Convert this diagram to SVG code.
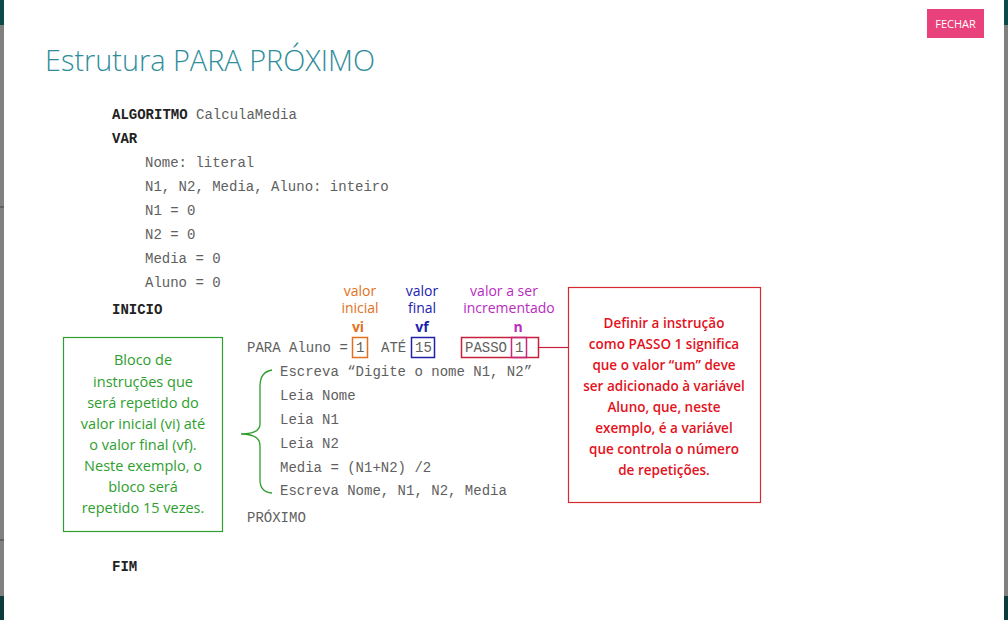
<svg xmlns="http://www.w3.org/2000/svg" width="1008" height="620" viewBox="0 0 1008 620">
<style>
.code{font-family:"Liberation Mono","Courier New",monospace;font-size:14px;fill:#606060}
.b{font-weight:bold;fill:#222}
.lbl{font-family:"Open Sans","Noto Sans",sans-serif;font-size:14px;text-anchor:middle}
.green{fill:#2e9e2e;font-size:14.5px}
.red{fill:#e3121c;font-weight:600;font-size:13.5px}
</style>
<rect x="0" y="0" width="1008" height="620" fill="#ffffff"/>
<rect x="0" y="0" width="4" height="620" fill="#808080"/>
<rect x="0" y="0" width="4" height="25" fill="#0d4a4a"/>
<rect x="0" y="596" width="4" height="24" fill="#0d3a3a"/>
<rect x="1004" y="0" width="4" height="620" fill="#808080"/>
<rect x="1004" y="0" width="4" height="25" fill="#0d4a4a"/>
<rect x="1004" y="596" width="4" height="24" fill="#0d3a3a"/>
<line x1="0" y1="207" x2="4" y2="207" stroke="#444"/>
<line x1="0" y1="540" x2="4" y2="540" stroke="#444"/>

<g id="title">
<text x="45" y="71" font-family="Open Sans, Noto Sans, sans-serif" font-size="30" font-weight="300" fill="#2f8d9b" textLength="330" lengthAdjust="spacingAndGlyphs">Estrutura PARA PRÓXIMO</text>
</g>
<g id="fechar">
<rect x="927" y="9" width="57" height="29" fill="#e8417b"/>
<text x="955.5" y="28" font-family="Open Sans, Noto Sans, sans-serif" font-size="11" fill="#fff" text-anchor="middle">FECHAR</text>
</g>

<g id="code">
<text class="code" x="112" y="119"><tspan class="b">ALGORITMO</tspan> CalculaMedia</text>
<text class="code b" x="112" y="143">VAR</text>
<text class="code" x="145" y="167">Nome: literal</text>
<text class="code" x="145" y="191">N1, N2, Media, Aluno: inteiro</text>
<text class="code" x="145" y="215">N1 = 0</text>
<text class="code" x="145" y="239">N2 = 0</text>
<text class="code" x="145" y="263">Media = 0</text>
<text class="code" x="145" y="287">Aluno = 0</text>
<text class="code b" x="112" y="314">INICIO</text>
<text class="code" x="247" y="352">PARA Aluno = </text>
<text class="code" x="356" y="352">1</text>
<text class="code" x="381" y="352">ATÉ</text>
<text class="code" x="415" y="352">15</text>
<text class="code" x="465" y="352">PASSO</text>
<text class="code" x="515" y="352">1</text>
<text class="code" x="280" y="376">Escreva “Digite o nome N1, N2”</text>
<text class="code" x="280" y="400">Leia Nome</text>
<text class="code" x="280" y="424">Leia N1</text>
<text class="code" x="280" y="448">Leia N2</text>
<text class="code" x="280" y="472">Media = (N1+N2) /2</text>
<text class="code" x="280" y="495">Escreva Nome, N1, N2, Media</text>
<text class="code" x="247" y="522">PRÓXIMO</text>
<text class="code b" x="112" y="571">FIM</text>
</g>

<g id="vi">
<rect x="352.5" y="337.5" width="15" height="20" fill="none" stroke="#e2711d" stroke-width="1.5"/>
<text class="lbl" x="360" y="296" fill="#e2711d">valor</text>
<text class="lbl" x="360" y="313" fill="#e2711d">inicial</text>
<text class="lbl" x="358" y="332" fill="#e2711d" font-weight="bold">vi</text>
</g>
<g id="vf">
<rect x="411.5" y="337.5" width="23" height="20" fill="none" stroke="#2121a8" stroke-width="1.5"/>
<text class="lbl" x="422" y="296" fill="#2121b0">valor</text>
<text class="lbl" x="422" y="313" fill="#2121b0">final</text>
<text class="lbl" x="422" y="332" fill="#2121b0" font-weight="bold">vf</text>
</g>
<g id="n">
<rect x="461.5" y="337.5" width="77" height="20" fill="none" stroke="#c8203c" stroke-width="1.5"/>
<rect x="511.5" y="337.5" width="15" height="20" fill="none" stroke="#c8287a" stroke-width="1.5"/>
<text class="lbl" x="504" y="296" fill="#b82cc0">valor a ser</text>
<text class="lbl" x="509" y="313" fill="#b82cc0">incrementado</text>
<text class="lbl" x="518" y="332" fill="#b82cc0" font-weight="bold">n</text>
</g>

<g id="green-box">
<rect x="63.5" y="337.5" width="159" height="194" fill="#fff" stroke="#2e9e2e" stroke-width="1.2"/>
<text class="lbl green" x="143" y="365">Bloco de</text>
<text class="lbl green" x="143" y="387">instruções que</text>
<text class="lbl green" x="143" y="408">será repetido do</text>
<text class="lbl green" x="143" y="429">valor inicial (vi) até</text>
<text class="lbl green" x="143" y="450">o valor final (vf).</text>
<text class="lbl green" x="143" y="471">Neste exemplo, o</text>
<text class="lbl green" x="143" y="492">bloco será</text>
<text class="lbl green" x="143" y="513">repetido 15 vezes.</text>
</g>

<g id="red-box">
<rect x="568.5" y="287.5" width="192" height="215" fill="#fff" stroke="#d42a30" stroke-width="1.2"/>
<text class="lbl red" x="664" y="328">Definir a instrução</text>
<text class="lbl red" x="664" y="349">como PASSO 1 significa</text>
<text class="lbl red" x="664" y="370">que o valor “um” deve</text>
<text class="lbl red" x="664" y="391">ser adicionado à variável</text>
<text class="lbl red" x="664" y="412">Aluno, que, neste</text>
<text class="lbl red" x="664" y="433">exemplo, é a variável</text>
<text class="lbl red" x="664" y="454">que controla o número</text>
<text class="lbl red" x="664" y="475">de repetições.</text>
</g>

<g id="connectors" fill="none">
<line x1="539" y1="347.5" x2="568" y2="347.5" stroke="#c8203c" stroke-width="1.2"/>
<path d="M272 370 Q260 372 260 386 L260 424 Q260 434 241 434 Q260 434 260 446 L260 480 Q260 492 272 493" stroke="#2e9e2e" stroke-width="1.3"/>
</g>
</svg>
